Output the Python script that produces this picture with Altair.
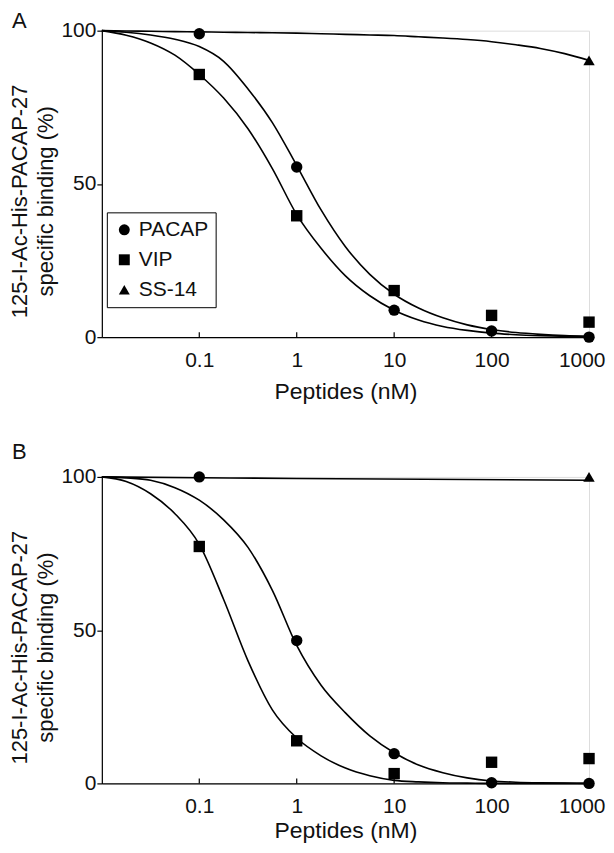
import altair as alt
import pandas as pd

# ---------------- data ----------------
peptides = ["PACAP", "VIP", "SS-14"]
conc = [0.1, 1, 10, 100, 1000]

# Panel A measured points (% specific binding)
a_pacap = [99.0, 55.5, 8.8, 2.0, 0.0]
a_vip = [85.7, 39.6, 15.2, 7.1, 4.9]
a_ss_conc = [1000]
a_ss = [90.3]

# Panel B measured points
b_pacap = [100.0, 46.6, 9.7, 0.2, 0.0]
b_vip = [77.3, 13.9, 3.2, 6.9, 8.1]
b_ss_conc = [1000]
b_ss = [100.0]

# Fitted curves, read at these log10(nM) positions
fit_log = [-2, -1.75, -1.5, -1.25, -1, -0.75, -0.5, -0.25, 0, 0.25, 0.5,
           0.75, 1, 1.25, 1.5, 1.75, 2, 2.25, 2.5, 2.75, 3]
a_fit_upper = [100, 99.5, 98.6, 97.2, 94.8, 90, 81, 70, 56, 41.5, 29.5,
               20.5, 14, 9.5, 6.3, 4, 2.5, 1.5, 0.9, 0.5, 0.3]
a_fit_lower = [100, 98.5, 96, 92, 85.7, 78, 68, 55, 40, 29, 20,
               13.5, 8.8, 5.6, 3.5, 2.2, 1.3, 0.8, 0.5, 0.3, 0.1]
a_fit_ss = [100, 99.9, 99.8, 99.7, 99.6, 99.5, 99.4, 99.3, 99.2, 99.0, 98.8,
            98.6, 98.4, 98.0, 97.6, 97.1, 96.4, 95.4, 94.2, 92.5, 90.3]

b_fit_upper = [100, 99.7, 98.9, 96.5, 92.4, 86, 77, 63, 45, 32, 23,
               15.5, 10, 6, 3.5, 1.8, 0.8, 0.4, 0.2, 0.1, 0]
b_fit_lower = [100, 98.5, 94.5, 88, 78, 60, 40, 24, 14.8, 9, 5,
               2.5, 1, 0.5, 0.2, 0.1, 0, 0, 0, 0, 0]
b_fit_ss_log = [-2, 0, 3]
b_fit_ss = [100, 99.5, 98.9]

x_ticks = [0.1, 1, 10, 100, 1000]
y_ticks = [0, 50, 100]

# ---------------- tables ----------------
def points_table(pacap, vip, ss_conc, ss):
    rows = []
    for c, v in zip(conc, pacap):
        rows.append({"conc": c, "value": v, "peptide": "PACAP"})
    for c, v in zip(conc, vip):
        rows.append({"conc": c, "value": v, "peptide": "VIP"})
    for c, v in zip(ss_conc, ss):
        rows.append({"conc": c, "value": v, "peptide": "SS-14"})
    return pd.DataFrame(rows)


def curve_table(curves):
    rows = []
    for name, logs, vals in curves:
        for lg, v in zip(logs, vals):
            rows.append({"conc": 10 ** lg, "value": v, "curve": name})
    return pd.DataFrame(rows)


pts_a = points_table(a_pacap, a_vip, a_ss_conc, a_ss)
pts_b = points_table(b_pacap, b_vip, b_ss_conc, b_ss)
fit_a = curve_table([("upper", fit_log, a_fit_upper),
                     ("lower", fit_log, a_fit_lower),
                     ("ss", fit_log, a_fit_ss)])
fit_b = curve_table([("upper", fit_log, b_fit_upper),
                     ("lower", fit_log, b_fit_lower),
                     ("ss", b_fit_ss_log, b_fit_ss)])
tick_df = pd.DataFrame({"conc": x_ticks})

FONT = "Liberation Sans"
INK = "#111111"
W, H = 488, 307

xs = alt.Scale(type="log", domain=[0.01, 1000], nice=False)
ys = alt.Scale(domain=[0, 100], nice=False, zero=True)


def x_axis(title_pad):
    return alt.Axis(values=x_ticks, format="~g", ticks=False, grid=False,
                    labelFontSize=21, labelFont=FONT, labelColor=INK,
                    labelPadding=12, title="Peptides (nM)", titleFontSize=23,
                    titleFont=FONT, titleFontWeight="normal", titleColor=INK,
                    titlePadding=title_pad, domainColor="black",
                    domainWidth=1.2, labelFlush=True, labelFlushOffset=16)


y_axis = alt.Axis(values=y_ticks, grid=False, tickSize=5, tickColor="black",
                  tickWidth=1.2, labelFontSize=21, labelFont=FONT,
                  labelColor=INK, labelPadding=1,
                  title=["125-I-Ac-His-PACAP-27", "specific binding (%)"],
                  titleFontSize=22, titleFont=FONT, titleFontWeight="normal",
                  titleColor=INK, titlePadding=3, titleLineHeight=26,
                  titleY=H / 2 + 17,
                  domainColor="black", domainWidth=1.2)


def panel(letter, pts, fit, with_legend, letter_y, x_title_pad):
    if with_legend:
        legend = alt.Legend(title=None, orient="none", legendX=5, legendY=182,
                            strokeColor="black", padding=7,
                            labelFontSize=21, labelFont=FONT, labelColor=INK,
                            symbolSize=120, symbolFillColor="black",
                            symbolStrokeWidth=0, rowPadding=8, labelOffset=4,
                            fillColor="white")
    else:
        legend = None
    lines = alt.Chart(fit).mark_line(color="black", strokeWidth=1.6,
                                     interpolate="monotone").encode(
        x=alt.X("conc:Q", scale=xs, axis=x_axis(x_title_pad)),
        y=alt.Y("value:Q", scale=ys, axis=y_axis),
        detail="curve:N",
    )
    ticks = alt.Chart(tick_df).mark_rule(color="black", strokeWidth=1.2).encode(
        x=alt.X("conc:Q", scale=xs),
        y=alt.value(H),
        y2=alt.value(H - 5),
    )
    points = alt.Chart(pts).mark_point(filled=True, opacity=1, color="black",
                                       size=130).encode(
        x=alt.X("conc:Q", scale=xs),
        y=alt.Y("value:Q", scale=ys),
        shape=alt.Shape("peptide:N",
                        scale=alt.Scale(domain=peptides,
                                        range=["circle", "square", "triangle-up"]),
                        legend=legend),
    )
    tag = alt.Chart(pd.DataFrame({"label": [letter]})).mark_text(
        align="left", baseline="top", fontSize=22, font=FONT, color=INK
    ).encode(text="label:N", x=alt.value(-90), y=alt.value(letter_y))
    return alt.layer(lines, ticks, points, tag).properties(width=W, height=H)


chart = alt.vconcat(
    panel("A", pts_a, fit_a, True, -20, 10),
    panel("B", pts_b, fit_b, False, -35, 3),
    spacing=36,
).resolve_scale(shape="independent").resolve_legend(shape="independent").properties(
    padding=0
).configure_view(stroke=None).configure(background="white")

chart.save("out.html", embed_options={"renderer": "svg", "actions": False})
